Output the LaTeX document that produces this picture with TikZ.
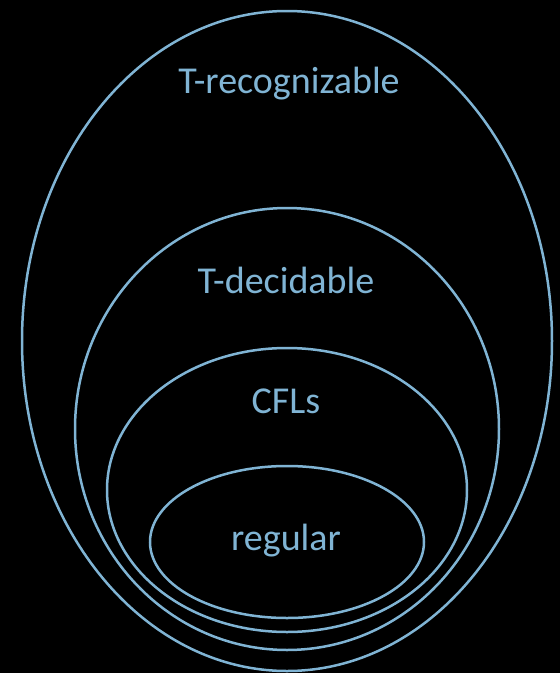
\documentclass[tikz,border=0pt]{standalone}
\usepackage{fontspec}
\setmainfont{Carlito}
\definecolor{setblue}{RGB}{128,180,212}
\begin{document}
\begin{tikzpicture}[x=1pt,y=-1pt,
  setline/.style={draw=setblue,line width=2.5pt},
  setlabel/.style={text=setblue,font=\fontsize{38}{42}\selectfont,anchor=base,inner sep=0pt}]
\fill[black] (0,0) rectangle (560,673);
\useasboundingbox (0,0) rectangle (560,673);
\draw[setline] (287,341) ellipse [x radius=265, y radius=330];
\draw[setline] (287,429) ellipse [x radius=212, y radius=221];
\draw[setline] (287,490) ellipse [x radius=180, y radius=142];
\draw[setline] (287,542) ellipse [x radius=137, y radius=76];
\node[setlabel] (rec) at (289,93) {T-recognizable};
\node[setlabel] (dec) at (286,293) {T-decidable};
\node[setlabel] (cfl) at (286,413) {CFLs};
\node[setlabel] (reg) at (286,550) {regular};
\end{tikzpicture}
\end{document}
